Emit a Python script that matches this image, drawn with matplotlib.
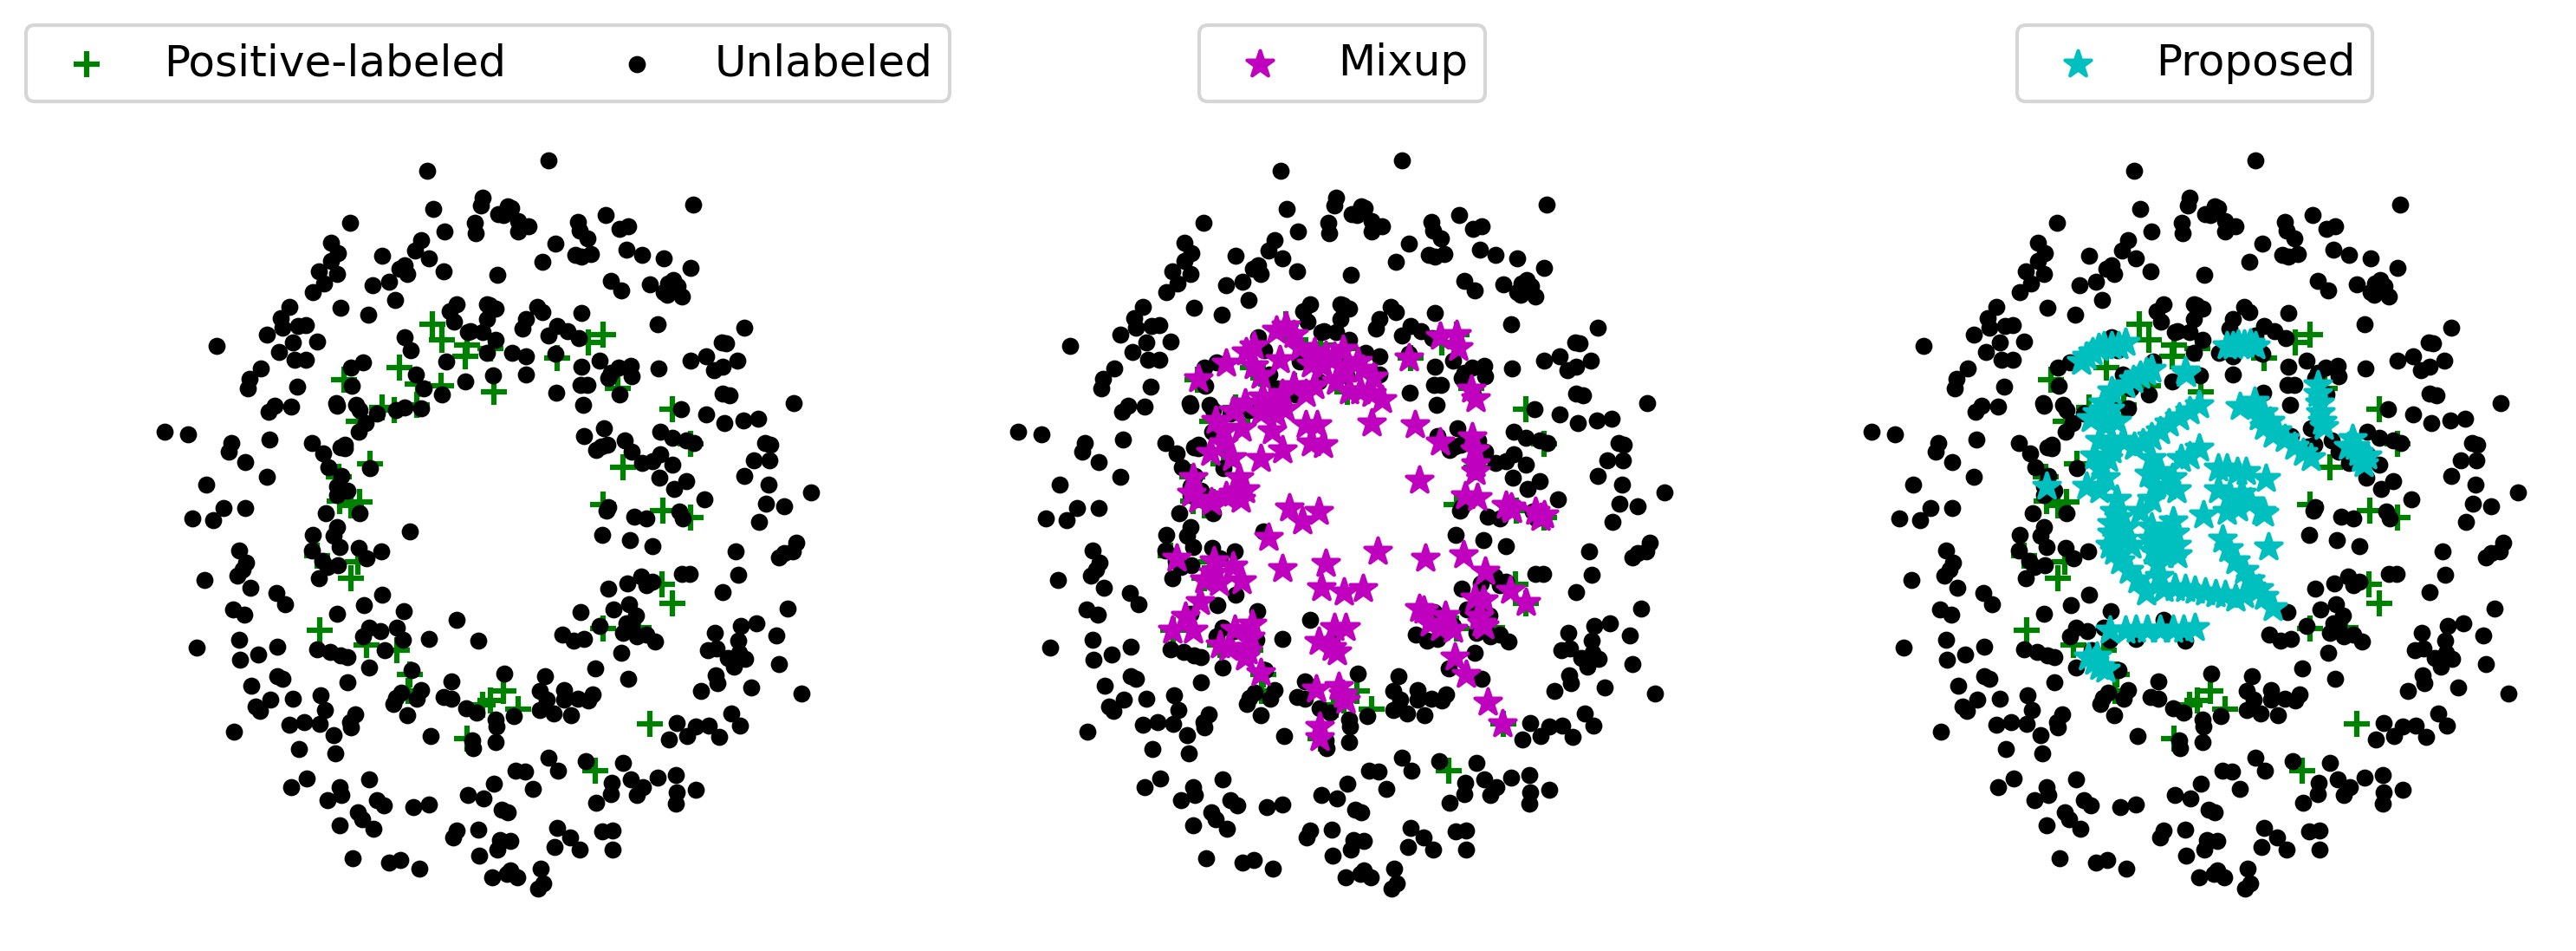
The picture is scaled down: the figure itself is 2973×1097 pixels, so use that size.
import numpy as np
import matplotlib
matplotlib.use('Agg')
import matplotlib.pyplot as plt

# all points, in its own pixel coordinates
unlabeled = np.array([
    (493,197),(500,241),(557,228),(555,237),(548,257),(549,269),(513,267),(404,257),(486,277),(479,289),
    (495,298),(512,313),(441,295),(382,280),(390,292),(382,301),(368,313),(389,316),(374,327),(361,337),
    (467,306),(461,310),(470,316),(449,325),(430,329),(456,346),(393,355),(425,363),(334,354),(324,367),
    (326,378),(344,376),(353,375),(308,386),(338,395),(366,394),(322,406),(340,415),(353,415),(250,399),
    (301,425),(288,437),(286,448),(343,446),(317,468),(310,475),(336,469),(190,498),(217,501),(267,511),
    (264,521),(311,507),(283,533),(308,550),(238,559),(258,586),(283,586),(222,598),(246,600),(360,511),
    (373,523),(379,539),(394,549),(389,561),(401,566),(389,571),(398,513),(393,516),(398,517),(376,592),
    (415,592),(467,389),(474,404),(419,418),(405,424),(406,445),(388,465),(389,468),(411,467),(415,473),
    (422,488),(414,498),(435,477),(457,473),(467,470),(486,471),(480,432),(489,448),(510,455),(515,417),
    (537,440),(427,540),(527,351),(519,359),(524,371),(540,383),(543,382),(557,383),(562,368),(562,351),
    (562,407),(633,185),(800,236),(586,238),(590,240),(575,247),(581,248),(598,255),(610,261),(598,267),
    (667,256),(669,266),(678,275),(699,248),(715,264),(725,261),(641,281),(626,302),(574,317),(664,294),
    (671,296),(682,293),(723,288),(741,294),(766,298),(797,309),(705,324),(717,335),(750,328),(777,323),
    (771,327),(782,330),(766,337),(770,340),(787,342),(777,333),(759,374),(859,378),(833,395),(838,396),
    (815,411),(797,416),(851,416),(834,423),(824,427),(760,425),(620,354),(626,360),(607,368),(603,379),
    (565,352),(572,356),(572,392),(671,361),(643,376),(655,382),(633,387),(668,390),(591,407),(607,411),
    (641,408),(607,432),(569,433),(642,453),(671,423),(692,416),(670,444),(678,444),(673,467),(728,422),
    (714,424),(705,430),(702,436),(729,434),(715,455),(786,472),(815,478),(834,454),(842,456),(836,488),
    (858,485),(875,483),(916,465),(697,494),(674,503),(688,519),(694,515),(701,513),(721,508),(729,521),
    (741,534),(753,532),(762,524),(762,498),(776,505),(792,508),(801,511),(776,536),(761,551),(792,555),
    (778,564),(813,576),(883,511),(889,513),(870,531),(888,531),(859,549),(887,559),(936,568),(884,581),
    (905,584),(876,602),(702,585),(700,589),(732,596),(746,598),(784,590),(788,598),(473,613),(389,608),
    (361,617),(385,618),(392,631),(414,632),(440,636),(423,644),(360,635),(276,635),(284,649),(280,657),
    (274,664),(236,669),(289,678),(372,647),(378,654),(390,652),(368,667),(319,684),(329,697),(441,686),
    (420,698),(389,708),(466,705),(527,715),(269,703),(282,709),(276,738),(227,747),(298,755),(320,746),
    (277,761),(426,724),(439,728),(419,734),(458,724),(465,738),(495,737),(444,750),(552,739),(366,749),
    (381,752),(393,756),(401,758),(426,770),(475,773),(401,787),(320,780),(326,783),(290,791),(521,786),
    (463,799),(486,796),(457,805),(454,812),(481,806),(512,804),(521,806),(312,807),(338,806),(370,802),
    (295,815),(300,820),(375,819),(538,817),(550,822),(410,824),(404,833),(405,839),(470,825),(351,833),
    (334,836),(369,835),(270,844),(385,848),(497,849),(545,854),(546,863),(345,864),(387,869),(354,898),
    (336,908),(426,899),(392,908),(394,917),(378,923),(435,923),(443,929),(413,937),(418,945),(477,931),
    (495,928),(540,917),(558,921),(392,952),(431,956),(527,958),(523,966),(552,957),(553,987),(407,990),
    (449,995),(462,992),(484,1002),(695,617),(727,623),(753,630),(849,636),(919,626),(915,636),(905,638),
    (899,643),(852,663),(834,683),(787,662),(796,662),(740,665),(753,671),(746,675),(724,673),(702,679),
    (909,702),(726,697),(708,703),(670,706),(734,710),(723,719),(692,722),(649,732),(662,739),(674,737),
    (719,730),(729,723),(735,734),(746,732),(756,740),(717,753),(825,730),(855,722),(873,719),(852,739),
    (896,733),(817,750),(827,748),(840,759),(853,753),(860,760),(847,769),(899,766),(826,779),(828,788),
    (809,797),(867,793),(925,800),(687,771),(725,783),(582,777),(629,780),(623,797),(631,807),(651,796),
    (651,807),(667,806),(679,808),(684,801),(623,819),(639,823),(659,825),(593,826),(572,830),(573,838),
    (572,856),(781,834),(844,823),(854,837),(803,838),(818,837),(793,849),(772,853),(830,850),(633,874),
    (644,889),(676,878),(719,880),(595,889),(606,890),(570,904),(615,910),(728,899),(759,897),(780,894),
    (706,903),(742,908),(735,917),(705,916),(688,926),(781,914),(803,911),(780,927),(579,934),(586,937),
    (643,955),(658,966),(640,977),(669,980),(695,959),(707,958),(707,980),(577,969),(589,970),(574,980),
    (624,1002),(589,1004),(585,1008),(597,1012),(568,1012),(627,1019),(621,1025),
])

positive = np.array([
    (499,374),(510,392),(537,411),(539,398),(461,424),(397,438),(509,445),(482,443),(481,467),(441,470),
    (455,473),(414,486),(427,535),(391,550),(392,578),(415,579),(405,583),(696,386),(679,395),(643,413),
    (570,452),(713,448),(776,472),(566,402),(797,512),(719,539),(696,582),(765,589),(797,597),(366,641),
    (413,648),(405,667),(369,727),(423,744),(458,750),(473,778),(471,797),(539,852),(557,813),(581,797),
    (566,808),(598,818),(764,674),(776,696),(696,725),(737,724),(750,835),(687,889),
])

mixup = np.array([
    (499,376),(488,381),(508,386),(462,399),(453,406),(430,419),(398,437),(492,415),(462,422),(470,433),
    (515,401),(532,406),(545,410),(565,403),(555,411),(582,417),(568,426),(542,422),(528,420),(600,435),
    (588,426),(557,440),(572,451),(585,451),(598,454),(610,461),(532,445),(522,454),(508,445),(495,454),
    (485,465),(472,458),(452,465),(438,474),(418,485),(427,497),(448,494),(470,476),(488,478),(498,472),
    (522,490),(535,490),(528,511),(542,513),(495,519),(483,497),(470,529),(437,528),(412,522),(427,511),
    (445,551),(392,551),(390,569),(398,576),(413,579),(430,572),(447,576),(452,565),(438,569),(641,413),
    (677,388),(696,386),(698,401),(713,449),(718,460),(598,488),(648,490),(677,510),(714,504),(717,519),
    (718,535),(718,544),(653,554),(706,572),(720,574),(759,585),(753,583),(760,588),(787,590),(797,594),
    (793,597),(503,586),(537,590),(518,601),(479,620),(605,636),(660,644),(704,640),(729,659),(495,656),
    (545,650),(540,678),(566,683),(588,679),(373,644),(416,647),(415,661),(438,653),(405,669),(422,672),
    (448,670),(400,694),(383,711),(368,727),(392,727),(440,726),(460,720),(423,744),(433,747),(458,735),
    (455,751),(452,758),(470,776),(534,795),(560,792),(565,801),(568,808),(555,724),(568,724),(537,740),
    (552,747),(558,752),(538,838),(538,851),(694,758),(707,778),(732,810),(749,835),(758,681),(776,695),
    (653,702),(658,704),(665,719),(683,710),(677,724),(692,726),(717,690),(727,692),(722,711),(725,719),
    (728,722),
])

proposed = np.array([
    (432,417),(438,411),(445,406),(452,401),(458,399),(467,399),(475,399),(483,395),
    (483,444),(492,438),(500,433),(507,429),(513,426),(553,431),(552,428),
    (600,399),(607,399),(613,397),(620,397),(627,396),(633,399),
    (705,444),(705,454),(707,465),(708,476),(710,486),(712,492),
    (745,506),(748,515),(752,522),(755,529),(758,535),(740,515),(762,526),
    (615,469),(632,463),(642,476),(650,486),(658,497),(667,506),(678,515),(688,522),(697,528),(637,481),(643,492),(653,501),
    (568,467),(557,474),(545,481),(533,488),(523,497),(513,504),(503,511),(493,515),
    (467,451),(457,465),(450,476),(465,472),(443,483),(460,490),(473,486),(453,508),(467,508),(447,526),(463,529),
    (453,540),(467,519),(480,508),(460,551),(438,561),(453,565),(473,576),(470,590),(467,604),(467,615),(465,629),
    (470,636),(480,622),(477,647),(487,658),(497,669),(507,683),(483,608),(475,597),(490,629),
    (513,529),(510,547),(517,561),(530,561),(513,576),(500,590),(523,544),(537,551),(547,529),(557,526),(568,517),(542,565),
    (513,608),(513,622),(515,636),(520,651),(522,665),(538,601),(540,615),(542,629),(530,611),(527,626),(527,640),(543,640),
    (527,679),(540,678),(552,679),(563,681),(575,683),(587,685),(598,686),(610,690),(620,686),
    (595,622),(602,633),(610,647),(620,658),(627,669),(637,679),(643,688),(653,701),
    (573,594),(645,552),(648,631),
    (590,540),(600,540),(612,544),(622,544),(590,565),(603,572),(613,586),(627,579),(640,590),(643,592),(600,590),(617,569),
    (392,561),
    (465,727),(495,726),(508,726),(523,726),(538,726),(550,726),(563,724),(483,727),
    (440,758),(447,763),(453,769),(460,772),(450,757),
])

W, H = 2973, 1097
panel_shift = 985
x_range = (150, 950)
y_range = (1040, 160)
legend_centers = [563, 1549, 2533]
legend_y = 73

fig = plt.figure(figsize=(W / 300, H / 300), dpi=300)

extras = [None, ('Mixup', mixup, 'm'), ('Proposed', proposed, 'c')]
for i, extra in enumerate(extras):
    left = x_range[0] + i * panel_shift
    ax = fig.add_axes([left / W, 1 - y_range[0] / H,
                       (x_range[1] - x_range[0]) / W, (y_range[0] - y_range[1]) / H])
    ax.scatter(positive[:, 0], positive[:, 1], s=50, c='g', marker='+', label='Positive-labeled')
    ax.scatter(unlabeled[:, 0], unlabeled[:, 1], s=14, c='k', label='Unlabeled')
    if extra is None:
        handles, labels = ax.get_legend_handles_labels()
        ncol = 2
    else:
        h = ax.scatter(extra[1][:, 0], extra[1][:, 1], s=58, c=extra[2], marker='*', label=extra[0])
        handles, labels = [h], [extra[0]]
        ncol = 1
    ax.set_xlim(x_range)
    ax.set_ylim(y_range)
    ax.axis('off')
    ax.legend(handles, labels, ncol=ncol, fontsize=12, loc='center',
              bbox_to_anchor=(legend_centers[i] / W, 1 - legend_y / H),
              bbox_transform=fig.transFigure, borderaxespad=0)

plt.savefig('out.png', dpi=300)
